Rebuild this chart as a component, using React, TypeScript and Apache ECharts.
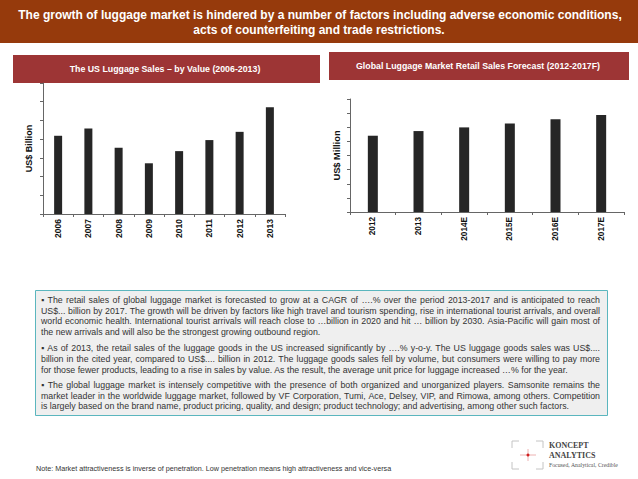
import React, { useEffect, useRef } from "react";
import * as echarts from "echarts";

const usYears = ["2006", "2007", "2008", "2009", "2010", "2011", "2012", "2013"];
const usSales = [4.18, 4.57, 3.54, 2.71, 3.36, 3.95, 4.39, 5.7];

const globalYears = ["2012", "2013", "2014E", "2015E", "2016E", "2017E"];
const globalSales = [5.4, 5.73, 5.99, 6.27, 6.56, 6.86];

const headerLines = [
  "The growth of luggage market is hindered by a number of factors including adverse economic conditions,",
  "acts of counterfeiting and trade restrictions.",
];
const leftTitle = "The US Luggage Sales \u2013 by Value (2006-2013)";
const rightTitle = "Global Luggage Market Retail Sales Forecast (2012-2017F)";
const leftAxisName = "US$ Billion";
const rightAxisName = "US$ Million";

const paragraphs = [
  [
    "\u25AA The retail sales of global luggage market is forecasted to grow at a CAGR of \u2026.% over the period 2013-2017 and is anticipated to reach",
    "US$... billion by 2017. The growth will be driven by factors like high travel and tourism spending, rise in international tourist arrivals, and overall",
    "world economic health. International tourist arrivals will reach close to \u2026billion in 2020 and hit \u2026 billion by 2030. Asia-Pacific will gain most of",
    "the new arrivals and will also be the strongest growing outbound region.",
  ],
  [
    "\u25AA As of 2013, the retail sales of the luggage goods in the US increased significantly by \u2026.% y-o-y. The US luggage goods sales was US$....",
    "billion in the cited year, compared to US$.... billion in 2012. The luggage goods sales fell by volume, but consumers were willing to pay more",
    "for those fewer products, leading to a rise in sales by value. As the result, the average unit price for luggage increased \u2026% for the year.",
  ],
  [
    "\u25AA The global luggage market is intensely competitive with the presence of both organized and unorganized players. Samsonite remains the",
    "market leader in the worldwide luggage market, followed by VF Corporation, Tumi, Ace, Delsey, VIP, and Rimowa, among others. Competition",
    "is largely based on the brand name, product pricing, quality, and design; product technology; and advertising, among other such factors.",
  ],
];
const noteText =
  "Note: Market attractiveness is inverse of penetration. Low penetration means high attractiveness and vice-versa";
const logoLines = ["KONCEPT", "ANALYTICS", "Focused, Analytical, Credible"];

const FONT = "'Liberation Sans', Arial, sans-serif";

export default function App() {
  const ref = useRef<HTMLDivElement>(null);

  useEffect(() => {
    document.body.style.margin = "0";
    const chart = echarts.init(ref.current!, undefined, { renderer: "svg" });

    const paraFont = `8.8px ${FONT}`;
    const canvas = document.createElement("canvas");
    const ctx = canvas.getContext("2d")!;
    ctx.font = paraFont;
    const textLeft = 41;
    const textRight = 600;
    const paraTops = [300, 348.3, 385];
    const lineGap = 10.7;
    const paraTexts: any[] = [];
    paragraphs.forEach((p, pi) => {
      p.forEach((line, li) => {
        const y = paraTops[pi] + li * lineGap;
        const isLast = li === p.length - 1;
        if (isLast) {
          paraTexts.push({
            type: "text",
            x: textLeft,
            y,
            style: { text: line, fill: "#333", font: paraFont, textAlign: "left", textVerticalAlign: "middle" },
          });
          return;
        }
        const words = line.split(" ");
        const widths = words.map((w) => ctx.measureText(w).width);
        const total = widths.reduce((a, b) => a + b, 0);
        const gap = Math.max(1.5, (textRight - textLeft - total) / (words.length - 1));
        let x = textLeft;
        words.forEach((w, wi) => {
          paraTexts.push({
            type: "text",
            x,
            y,
            style: { text: w, fill: "#333", font: paraFont, textAlign: "left", textVerticalAlign: "middle" },
          });
          x += widths[wi] + gap;
        });
      });
    });

    const bracket = "#c4c4c4";
    const lx0 = 512, lx1 = 543, ly0 = 441, ly1 = 469, arm = 7;

    const axisCommon = {
      axisLine: { show: true, lineStyle: { color: "#666", width: 1 } },
      axisTick: { show: true, length: 3, lineStyle: { color: "#666" } },
      splitLine: { show: false },
    };

    chart.setOption({
      animation: false,
      backgroundColor: "#ffffff",
      textStyle: { fontFamily: FONT },
      grid: [
        { left: 43, top: 83, width: 242, height: 131 },
        { left: 350, top: 99, width: 274, height: 113 },
      ],
      xAxis: [
        {
          type: "category",
          gridIndex: 0,
          data: usYears,
          ...axisCommon,
          axisLabel: { rotate: 90, fontSize: 8.5, fontWeight: "bold", color: "#111", margin: 5, fontFamily: FONT },
        },
        {
          type: "category",
          gridIndex: 1,
          data: globalYears,
          ...axisCommon,
          axisLabel: { rotate: 90, fontSize: 8.2, fontWeight: "bold", color: "#111", margin: 5, fontFamily: FONT },
        },
      ],
      yAxis: [
        {
          type: "value",
          gridIndex: 0,
          min: 0,
          max: 7,
          interval: 1,
          ...axisCommon,
          axisLabel: { show: false },
          name: leftAxisName,
          nameLocation: "middle",
          nameGap: 10,
          nameTextStyle: { fontSize: 9, fontWeight: "bold", color: "#111", fontFamily: FONT },
        },
        {
          type: "value",
          gridIndex: 1,
          min: 0,
          max: 8,
          interval: 1,
          ...axisCommon,
          axisLabel: { show: false },
          name: rightAxisName,
          nameLocation: "middle",
          nameGap: 9,
          nameTextStyle: { fontSize: 9.3, fontWeight: "bold", color: "#111", fontFamily: FONT },
        },
      ],
      series: [
        {
          type: "bar",
          xAxisIndex: 0,
          yAxisIndex: 0,
          data: usSales,
          barWidth: 8,
          itemStyle: { color: "#262626" },
        },
        {
          type: "bar",
          xAxisIndex: 1,
          yAxisIndex: 1,
          data: globalSales,
          barWidth: 10,
          itemStyle: { color: "#262626" },
        },
      ],
      graphic: [
        { type: "rect", shape: { x: 0, y: 0, width: 638, height: 43 }, style: { fill: "#963a0c" } },
        {
          type: "text",
          x: 320,
          y: 15,
          style: { text: headerLines[0], fill: "#fff", font: `bold 12px ${FONT}`, textAlign: "center", textVerticalAlign: "middle" },
        },
        {
          type: "text",
          x: 319,
          y: 30,
          style: { text: headerLines[1], fill: "#fff", font: `bold 12px ${FONT}`, textAlign: "center", textVerticalAlign: "middle" },
        },
        { type: "rect", shape: { x: 13, y: 55, width: 307, height: 28 }, style: { fill: "#9d3535" } },
        {
          type: "text",
          x: 165,
          y: 69,
          style: { text: leftTitle, fill: "#fff", font: `bold 8.8px ${FONT}`, textAlign: "center", textVerticalAlign: "middle" },
        },
        { type: "rect", shape: { x: 329, y: 52, width: 300, height: 28 }, style: { fill: "#9d3535" } },
        {
          type: "text",
          x: 478,
          y: 66,
          style: { text: rightTitle, fill: "#fff", font: `bold 8.8px ${FONT}`, textAlign: "center", textVerticalAlign: "middle" },
        },
        {
          type: "rect",
          shape: { x: 35.5, y: 290.5, width: 572, height: 125 },
          style: { fill: "#efefef", stroke: "#5bb6be", lineWidth: 1 },
        },
        ...paraTexts,
        {
          type: "text",
          x: 36,
          y: 468,
          style: { text: noteText, fill: "#333", font: `7.2px ${FONT}`, textAlign: "left", textVerticalAlign: "middle" },
        },
        // logo brackets
        { type: "polyline", shape: { points: [[lx0, ly0 + arm], [lx0, ly0], [lx0 + arm, ly0]] }, style: { stroke: bracket, fill: "none", lineWidth: 1 } },
        { type: "polyline", shape: { points: [[lx1 - arm, ly0], [lx1, ly0], [lx1, ly0 + arm]] }, style: { stroke: bracket, fill: "none", lineWidth: 1 } },
        { type: "polyline", shape: { points: [[lx0, ly1 - arm], [lx0, ly1], [lx0 + arm, ly1]] }, style: { stroke: bracket, fill: "none", lineWidth: 1 } },
        { type: "polyline", shape: { points: [[lx1 - arm, ly1], [lx1, ly1], [lx1, ly1 - arm]] }, style: { stroke: bracket, fill: "none", lineWidth: 1 } },
        { type: "line", shape: { x1: 520, y1: 455, x2: 536, y2: 455 }, style: { stroke: "#e8a0a0", lineWidth: 0.8 } },
        { type: "line", shape: { x1: 528, y1: 449, x2: 528, y2: 461 }, style: { stroke: "#e8a0a0", lineWidth: 0.8 } },
        { type: "circle", shape: { cx: 528, cy: 455, r: 1.5 }, style: { fill: "#d02020" } },
        {
          type: "text",
          x: 549,
          y: 445,
          style: { text: logoLines[0], fill: "#444", font: `bold 8px 'Liberation Serif', 'DejaVu Serif', serif`, textAlign: "left", textVerticalAlign: "middle" },
        },
        {
          type: "text",
          x: 549,
          y: 455,
          style: { text: logoLines[1], fill: "#444", font: `bold 8px 'Liberation Serif', 'DejaVu Serif', serif`, textAlign: "left", textVerticalAlign: "middle" },
        },
        {
          type: "text",
          x: 549,
          y: 465,
          style: { text: logoLines[2], fill: "#555", font: `5.8px 'Liberation Serif', serif`, textAlign: "left", textVerticalAlign: "middle" },
        },
      ],
    });

    return () => chart.dispose();
  }, []);

  return <div ref={ref} style={{ width: 638, height: 479 }} />;
}
